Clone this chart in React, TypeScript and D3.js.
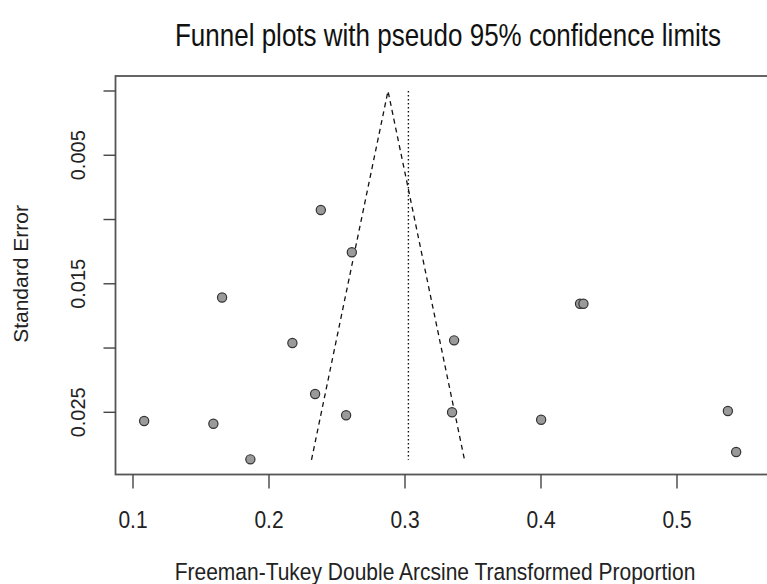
import React from 'react';
import * as d3 from 'd3';

// study estimates (Freeman-Tukey transformed) and their standard errors
const studyTE = [
  0.1082, 0.1591, 0.1655, 0.1863, 0.2172, 0.2339, 0.2381, 0.2567,
  0.2609, 0.3361, 0.3346, 0.4001, 0.4287, 0.4312, 0.5374, 0.5435,
];
const studySE = [
  0.02568, 0.02589, 0.01607, 0.02866, 0.01961, 0.02358, 0.00926, 0.02523,
  0.01255, 0.0194, 0.025, 0.02558, 0.01655, 0.01655, 0.0249, 0.02809,
];
const fixedTE = 0.2875;
const randomTE = 0.3025;
const maxSE = 0.0287;
const xTicks = [0.1, 0.2, 0.3, 0.4, 0.5];
const yTicks = [0, 0.005, 0.01, 0.015, 0.02, 0.025];
const yTickLabels = ['', '0.005', '', '0.015', '', '0.025'];

const W = 767;
const H = 584;
const font = 'Arial, "Liberation Sans", sans-serif';
// the reference text is a bit taller than it is wide
const stretch = 1.18;

const App: React.FC = () => {
  const box = { left: 115.5, right: 790, top: 76, bottom: 474.5 };
  const x = d3.scaleLinear().domain([0.1, 0.5]).range([133, 677]);
  const y = d3.scaleLinear().domain([0, 0.025]).range([91, 412.3]);

  const funnel = d3
    .line<[number, number]>()
    .x((d) => x(d[0]))
    .y((d) => y(d[1]));
  const funnelPts: [number, number][] = [
    [fixedTE - 1.96 * maxSE, maxSE],
    [fixedTE, 0],
    [fixedTE + 1.96 * maxSE, maxSE],
  ];

  return (
    <svg
      width={W}
      height={H}
      style={{ position: 'absolute', left: 0, top: 0, background: '#fff' }}
      fontFamily={font}
    >
      <text
        transform={`translate(448,46) scale(1,${stretch})`}
        textAnchor="middle"
        fontSize={26}
        fill="#111"
      >
        Funnel plots with pseudo 95% confidence limits
      </text>

      {/* box */}
      <rect
        x={box.left}
        y={box.top}
        width={box.right - box.left}
        height={box.bottom - box.top}
        fill="none"
        stroke="#555"
        strokeWidth={1.8}
      />

      {/* x axis */}
      {xTicks.map((t) => (
        <g key={t}>
          <line x1={x(t)} x2={x(t)} y1={box.bottom} y2={box.bottom + 14} stroke="#444" strokeWidth={1.4} />
          <text
            transform={`translate(${x(t)},528) scale(1,${stretch})`}
            textAnchor="middle"
            fontSize={21}
            fill="#222"
          >
            {d3.format('.1f')(t)}
          </text>
        </g>
      ))}
      <text
        transform={`translate(435,580) scale(1,${stretch})`}
        textAnchor="middle"
        fontSize={21}
        fill="#222"
      >
        Freeman-Tukey Double Arcsine Transformed Proportion
      </text>

      {/* y axis */}
      {yTicks.map((t, i) => (
        <g key={t}>
          <line x1={box.left - 12} x2={box.left} y1={y(t)} y2={y(t)} stroke="#444" strokeWidth={1.4} />
          {yTickLabels[i] && (
            <text
              transform={`translate(85,${y(t)}) rotate(-90)`}
              textAnchor="middle"
              fontSize={20}
              fill="#222"
            >
              {yTickLabels[i]}
            </text>
          )}
        </g>
      ))}
      <text transform="translate(28,274) rotate(-90)" textAnchor="middle" fontSize={21} fill="#222">
        Standard Error
      </text>

      {/* funnel and pooled lines */}
      <path d={funnel(funnelPts) || ''} fill="none" stroke="#111" strokeWidth={1.3} strokeDasharray="5,4" />
      <line
        x1={x(randomTE)}
        x2={x(randomTE)}
        y1={y(0)}
        y2={y(maxSE)}
        stroke="#111"
        strokeWidth={1.4}
        strokeDasharray="1.5,2.5"
      />

      {/* studies */}
      {studyTE.map((te, i) => (
        <circle key={i} cx={x(te)} cy={y(studySE[i])} r={4.6} fill="#9a9a9a" stroke="#333" strokeWidth={1.2} />
      ))}
    </svg>
  );
};

export default App;
